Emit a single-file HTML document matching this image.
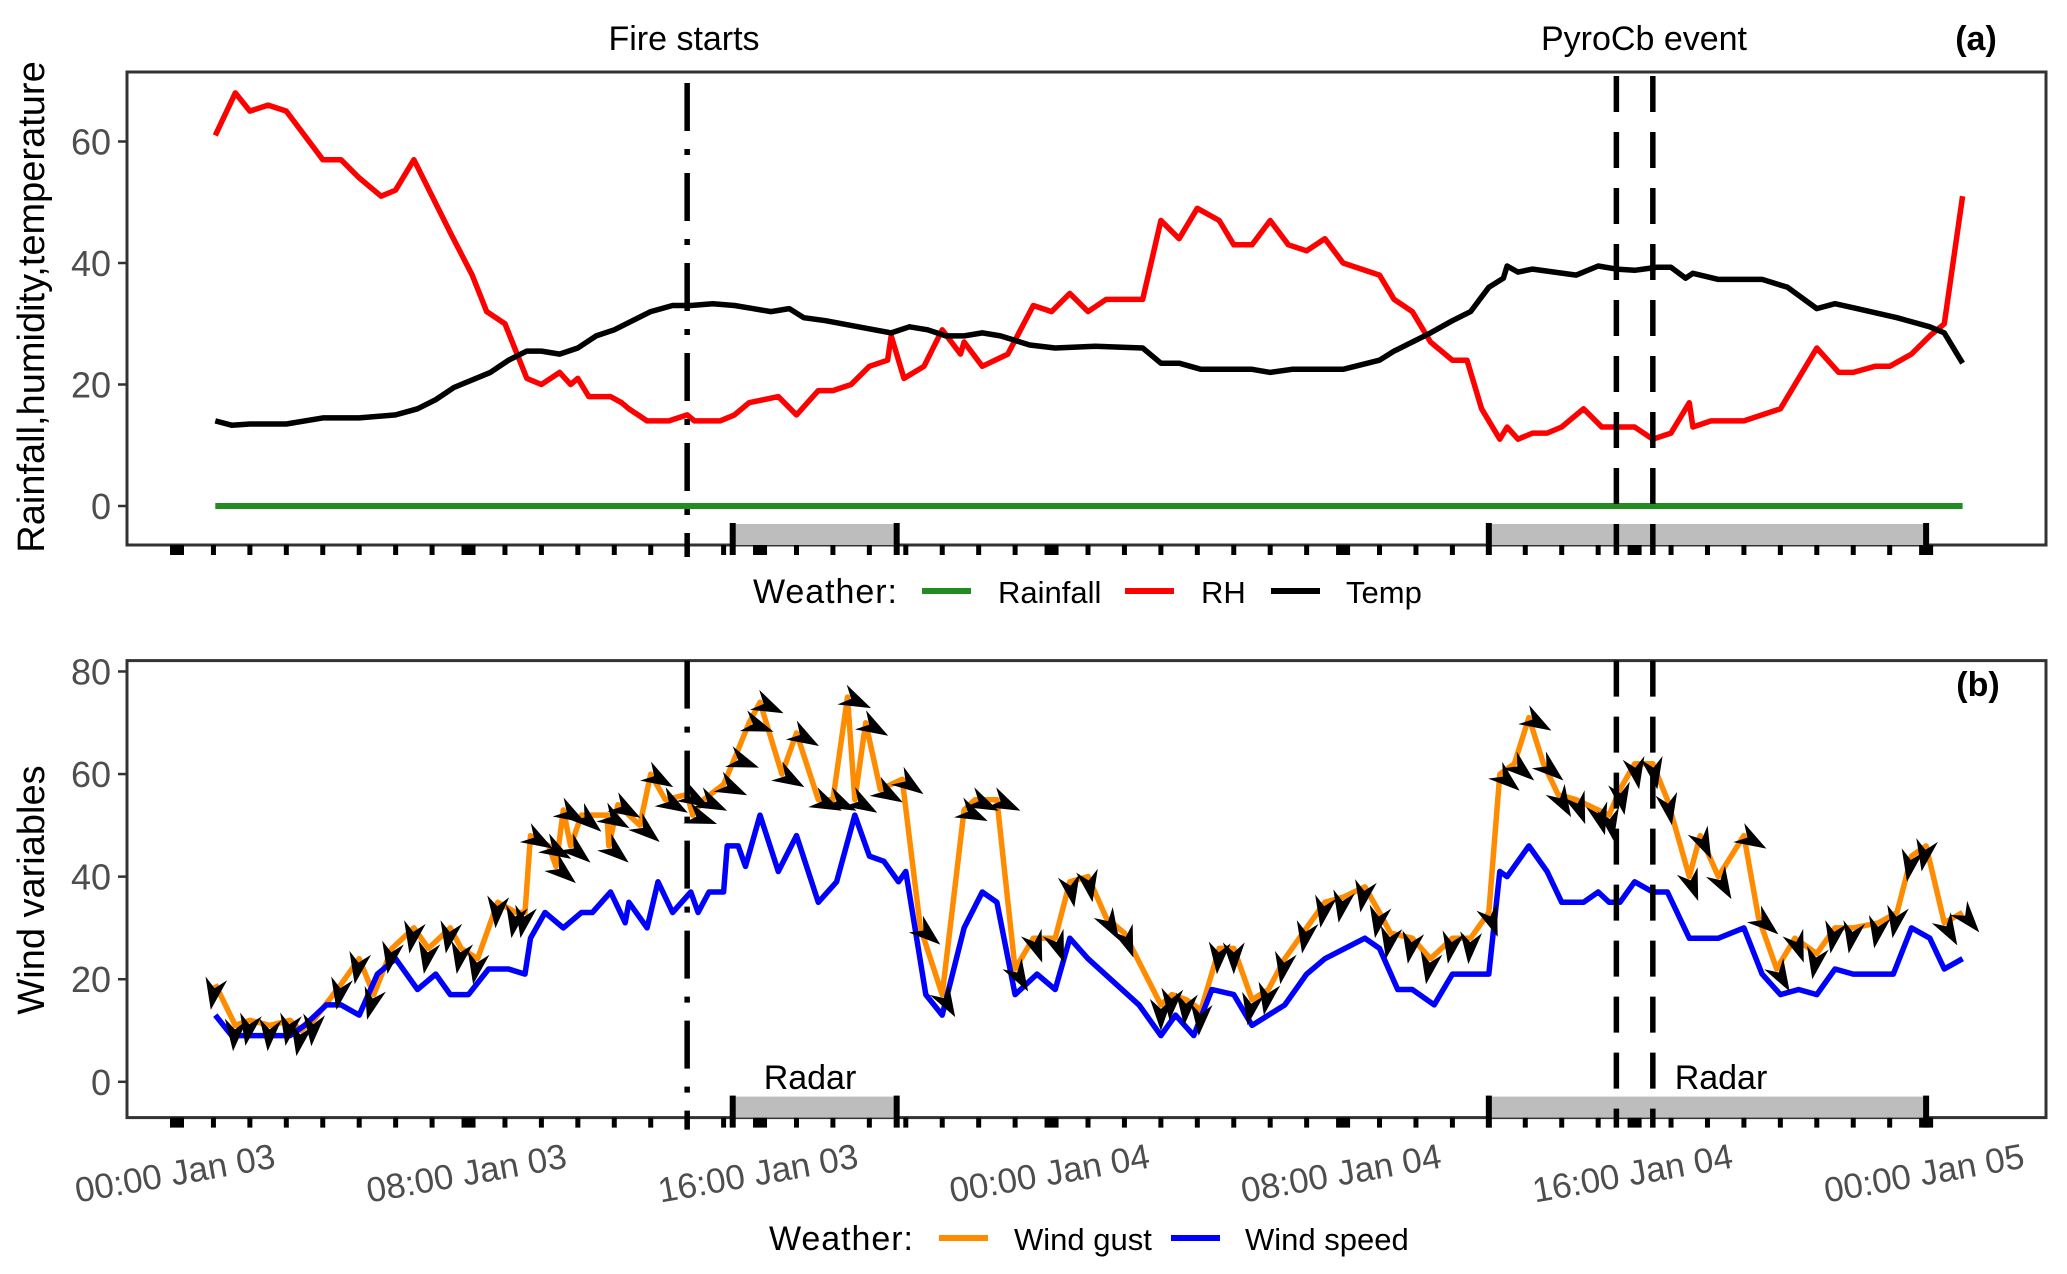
<!DOCTYPE html>
<html><head><meta charset="utf-8"><style>
html,body{margin:0;padding:0;background:#fff;}
svg{display:block;font-family:"Liberation Sans",Arial,sans-serif;}
</style></head><body>
<svg id="chart" width="2067" height="1274" viewBox="0 0 2067 1274" xmlns="http://www.w3.org/2000/svg">
<rect x="0" y="0" width="2067" height="1274" fill="#fff"/>
<g id="pa"></g>
<g id="pb"></g>
</svg>
<script>
// ---------- data (hours since 00:00 Jan 03) ----------
const rhHours=[1.05,1.6,2.0,2.5,3.0,4.0,4.5,5.0,5.6,6.0,6.5,7.5,8.1,8.5,9.0,9.6,10,10.5,10.8,11,11.3,11.9,12.2,12.4,12.9,13.5,14,14.2,14.9,15.3,15.7,16.5,17,17.6,18,18.5,19,19.5,19.6,19.95,20.5,21,21.5,21.6,22.1,22.8,23.5,24.0,24.5,25,25.5,26.5,27,27.5,28,28.6,29,29.5,30,30.5,31,31.5,32,33,33.4,33.9,34.4,35,35.4,35.8,36.3,36.5,36.8,37.2,37.6,38.0,38.6,39.1,40.0,40.5,41,41.5,41.6,42.1,43,44,45,45.6,46,46.6,47,47.6,48.1,48.5,49];
const rhValues=[61,68,65,66,65,57,57,54,51,52,57,45,38,32,30,21,20,22,20,21,18,18,17,16,14,14,15,14,14,15,17,18,15,19,19,20,23,24,28,21,23,29,25,27,23,25,33,32,35,32,34,34,47,44,49,47,43,43,47,43,42,44,40,38,34,32,27,24,24,16,11,13,11,12,12,13,16,13,13,11,12,17,13,14,14,16,26,22,22,23,23,25,28,30,51];
const tempHours=[1.05,1.5,2.0,3.0,4,5,6,6.6,7.1,7.6,8.6,9.1,9.6,10,10.5,11,11.5,12,12.5,13,13.6,14.1,14.7,15.3,15.8,16.3,16.8,17.2,17.8,18.7,19.6,20.1,20.6,21.1,21.6,22.1,22.6,23.4,24.1,25.2,26.5,27,27.5,28.1,29.5,30,30.6,32,33,33.4,34.4,35,35.5,36,36.4,36.5,36.8,37.2,37.8,38.4,39,39.5,40.0,40.6,41.0,41.4,41.6,42.3,43.5,44.2,45,45.5,46.1,47.2,48.1,48.5,49];
const tempValues=[14,13.3,13.5,13.5,14.5,14.5,15,16,17.5,19.5,22,24,25.5,25.5,25,26,28,29,30.5,32,33,33,33.3,33,32.5,32,32.5,31,30.5,29.5,28.5,29.5,29,28,28,28.5,28,26.5,26,26.3,26,23.5,23.5,22.5,22.5,22,22.5,22.5,24,25.5,28.5,30.5,32,36,37.5,39.5,38.5,39,38.5,38,39.5,39,38.8,39.3,39.3,37.5,38.3,37.3,37.3,36,32.5,33.3,32.5,31,29.5,28.5,23.5];
const rainHours=[1.05,49];
const rainValues=[0,0];
const gustHours=[1.05,1.6,2,2.55,3.1,3.4,3.75,4.5,5,5.4,5.9,6.5,6.9,7.5,7.8,8.25,8.8,9.3,9.55,9.7,10.2,10.4,10.6,10.8,11.1,11.8,11.85,12.1,12.7,13.0,13.4,14,14.15,14.45,15,15.3,15.7,16,16.6,17,17.6,18,18.4,18.6,18.9,19.3,19.9,20.4,21,21.6,21.9,22.5,23,23.5,24.1,24.5,25,25.5,26,27,27.3,27.7,28.1,28.6,29,29.5,29.95,30.4,31,31.5,32,32.6,33,33.3,33.9,34.4,35,35.5,36,36.3,36.7,37.1,37.5,37.9,38.4,39,39.3,39.6,40,40.5,40.9,41.5,41.8,42.3,43,43.4,43.9,44.4,45,45.5,46,46.7,47.2,47.6,48,48.5,49];
const gustValues=[19,11,12,11,12,10,12,19,24,17,26,30,26,30,26,24,35,33,33,48,46,42,53,46,52,52,46,54,50,60,55,56,52,55,58,63,70,74,60,68,55,55,75,55,70,57,59,30,17,53,55,55,22,28,28,39,40,32,29,15,17,16,14,26,26,16,18,24,30,35,36,38,33,29,28,24,28,28,33,60,62,71,62,56,55,53,52,57,62,62,55,40,48,40,48,32,22,28,25,30,30,31,33,44,46,31,33];
const windDir=[100,95,100,95,100,100,95,100,100,105,100,100,100,100,100,100,95,100,100,30,30,40,30,40,40,30,40,30,40,30,30,30,20,25,25,20,20,25,30,30,25,25,25,30,30,30,35,40,60,25,25,25,60,70,70,80,80,60,70,90,95,95,95,95,90,100,100,100,100,100,100,100,100,100,100,100,100,95,70,40,40,30,40,60,70,75,80,80,80,80,80,70,65,60,30,40,60,70,100,100,100,100,100,100,100,60,50];
const speedHours=[1.05,1.5,2.55,3.1,3.5,4.1,4.5,5,5.5,6,6.6,7.1,7.5,8,8.55,9.1,9.55,9.7,10.1,10.6,11.1,11.4,11.9,12.3,12.4,12.9,13.2,13.6,14.1,14.3,14.6,15,15.1,15.4,15.6,16,16.5,17,17.6,18.1,18.6,19,19.4,19.8,20,20.55,21,21.6,22.1,22.5,23,23.6,24.1,24.5,25,26.4,27,27.4,27.9,28.4,29,29.5,30.4,31,31.5,32.6,33,33.5,33.9,34.5,35,36,36.3,36.5,37.1,37.6,38,38.6,39,39.3,39.6,40,40.5,40.9,41.5,42.3,43,43.5,44,44.5,45,45.5,46,47.1,47.6,48.1,48.5,49];
const speedValues=[13,9,9,9,11,15,15,13,21,24,18,21,17,17,22,22,21,28,33,30,33,33,37,31,35,30,39,33,37,33,37,37,46,46,42,52,41,48,35,39,52,44,43,39,41,17,13,30,37,35,17,21,18,28,24,15,9,13,9,18,17,11,15,21,24,28,26,18,18,15,21,21,41,40,46,41,35,35,37,35,35,39,37,37,28,28,30,21,17,18,17,22,21,21,30,28,22,24];
const aTicks=[0,20,40,60];
const bTicks=[0,20,40,60,80];
const xMajorHours=[0,8,16,24,32,40,48];
const xMajorLabels=["00:00 Jan 03","08:00 Jan 03","16:00 Jan 03","00:00 Jan 04","08:00 Jan 04","16:00 Jan 04","00:00 Jan 05"];
const fireHour=14;
const pyroHours=[39.5,40.5];
const radarSpans=[[15.25,19.75],[36,48]];

// ---------- scales ----------
const X0=127,X1=2046;
const xs=h=>177+h*36.44;
const ya=v=>506-v*6.075;
const yb=v=>1081.8-v*5.129;
const A={top:72,bot:545}, B={top:660.6,bot:1117.6};
const NS="http://www.w3.org/2000/svg";
function mk(tag,attrs,parent){const e=document.createElementNS(NS,tag);for(const k in attrs)e.setAttribute(k,attrs[k]);parent.appendChild(e);return e;}
function txt(parent,s,attrs){const e=mk('text',attrs,parent);e.textContent=s;return e;}

function frame(g,P,yfun,ticks,name){
  const r=mk('rect',{x:X0,y:P.top,width:X1-X0,height:P.bot-P.top,fill:'none',stroke:'#333',"stroke-width":3},g);
  
  
  ticks.forEach(v=>{
    const t=mk('line',{x1:X0-9,x2:X0,y1:yfun(v),y2:yfun(v),stroke:'#333',"stroke-width":2.5},g);
    
    
    const l=txt(g,String(v),{x:X0-16,y:yfun(v)+13,"text-anchor":"end","font-size":36,fill:'#4d4d4d'});
    
    
  });
  for(let h=0;h<=48;h++){
    const major=xMajorHours.includes(h);
    const t=mk('rect',{x:xs(h)-(major?7:2.5),y:P.bot,width:major?14:5,height:10,fill:'#000'},g);
    
    
  }
  radarSpans.forEach(s=>{
    const rr=mk('rect',{x:xs(s[0]),y:P.bot-21,width:xs(s[1])-xs(s[0]),height:21,fill:'#bdbdbd'},g);
    
    
    [s[0],s[1]].forEach(h=>{
      const e=mk('rect',{x:xs(h)-3,y:P.bot-22,width:6,height:32,fill:'#000'},g);
      
      
    });
  });
}
function series(g,hours,vals,yfun,color,w,name){
  const d=hours.map((h,i)=>(i?'L':'M')+xs(h).toFixed(1)+','+yfun(vals[i]).toFixed(1)).join('');
  const p=mk('path',{d:d,fill:'none',stroke:color,"stroke-width":w,"stroke-linejoin":"round"},g);
  
  
}
function vlines(g,P,extra){
  const f=mk('line',{x1:xs(fireHour),x2:xs(fireHour),y1:P.top+(extra?11:0),y2:P.bot+12,stroke:'#000',"stroke-width":5.5,"stroke-dasharray":"48 18 6 18"},g);
  
  
  pyroHours.forEach(h=>{
    const l=mk('line',{x1:xs(h),x2:xs(h),y1:P.top+(extra?4:0),y2:P.bot+10,stroke:'#000',"stroke-width":5.5,"stroke-dasharray":"36 20"},g);
    
    
  });
}
function legend(g,y,items,startX){
  const w=txt(g,'Weather:',{x:startX,y:y+12,"font-size":34,fill:'#000',textLength:144});
  
  
  items.forEach(it=>{
    const k=mk('line',{x1:it[0],x2:it[0]+49,y1:y,y2:y,stroke:it[2],"stroke-width":6},g);
    
    
    const t=txt(g,it[3],{x:it[1],y:y+12,"font-size":31,fill:'#000'});
    
    
  });
}

// ---------- panel a ----------
const ga=document.getElementById('pa');
frame(ga,A,ya,aTicks,'panel-a');
series(ga,rainHours,rainValues,ya,'#228b22',6,'rainfall-line');
series(ga,rhHours,rhValues,ya,'#ff0000',5.5,'rh-line');
series(ga,tempHours,tempValues,ya,'#000000',5.5,'temp-line');
vlines(ga,A,true);
let t1=txt(ga,'Fire starts',{x:684,y:50,"text-anchor":"middle","font-size":34,fill:'#000'});


let t2=txt(ga,'PyroCb event',{x:1644,y:50,"text-anchor":"middle","font-size":34,fill:'#000'});


let t3=txt(ga,'(a)',{x:1976,y:50,"text-anchor":"middle","font-size":34,"font-weight":"bold",fill:'#000'});


let ta=txt(ga,'Rainfall,humidity,temperature',{x:0,y:0,"text-anchor":"middle","font-size":38,fill:'#000',transform:'translate(44,307) rotate(-90)'});


legend(ga,591,[[922,998,'#228b22','Rainfall'],[1125,1201,'#ff0000','RH'],[1271,1346,'#000000','Temp']],753);

// ---------- panel b ----------
const gb=document.getElementById('pb');
frame(gb,B,yb,bTicks,'panel-b');
series(gb,gustHours,gustValues,yb,'#ff8c00',5.5,'wind-gust-line');
series(gb,speedHours,speedValues,yb,'#0000ff',5.5,'wind-speed-line');
gustHours.forEach((h,i)=>{
  const a=mk('polygon',{points:'26,0 -6,-11 4,0 -6,11',fill:'#000',transform:`translate(${xs(h).toFixed(1)},${yb(gustValues[i]).toFixed(1)}) rotate(${windDir[i]})`},gb);
  
  
});
vlines(gb,B,false);
[[810,'Radar'],[1721,'Radar']].forEach(r=>{
  const t=txt(gb,r[1],{x:r[0],y:1089,"text-anchor":"middle","font-size":34,fill:'#000'});
  
  
});
let tb=txt(gb,'(b)',{x:1978,y:696,"text-anchor":"middle","font-size":34,"font-weight":"bold",fill:'#000'});


let tyb=txt(gb,'Wind variables',{x:0,y:0,"text-anchor":"middle","font-size":38,fill:'#000',transform:'translate(44,890) rotate(-90)'});


xMajorHours.forEach((h,i)=>{
  const t=txt(gb,xMajorLabels[i],{x:0,y:0,"text-anchor":"middle","font-size":35,fill:'#4d4d4d',transform:`translate(${xs(h)},1185) rotate(-10)`});
  
  
});
legend(gb,1238,[[939,1014,'#ff8c00','Wind gust'],[1171,1245,'#0000ff','Wind speed']],769);
</script>
</body></html>
